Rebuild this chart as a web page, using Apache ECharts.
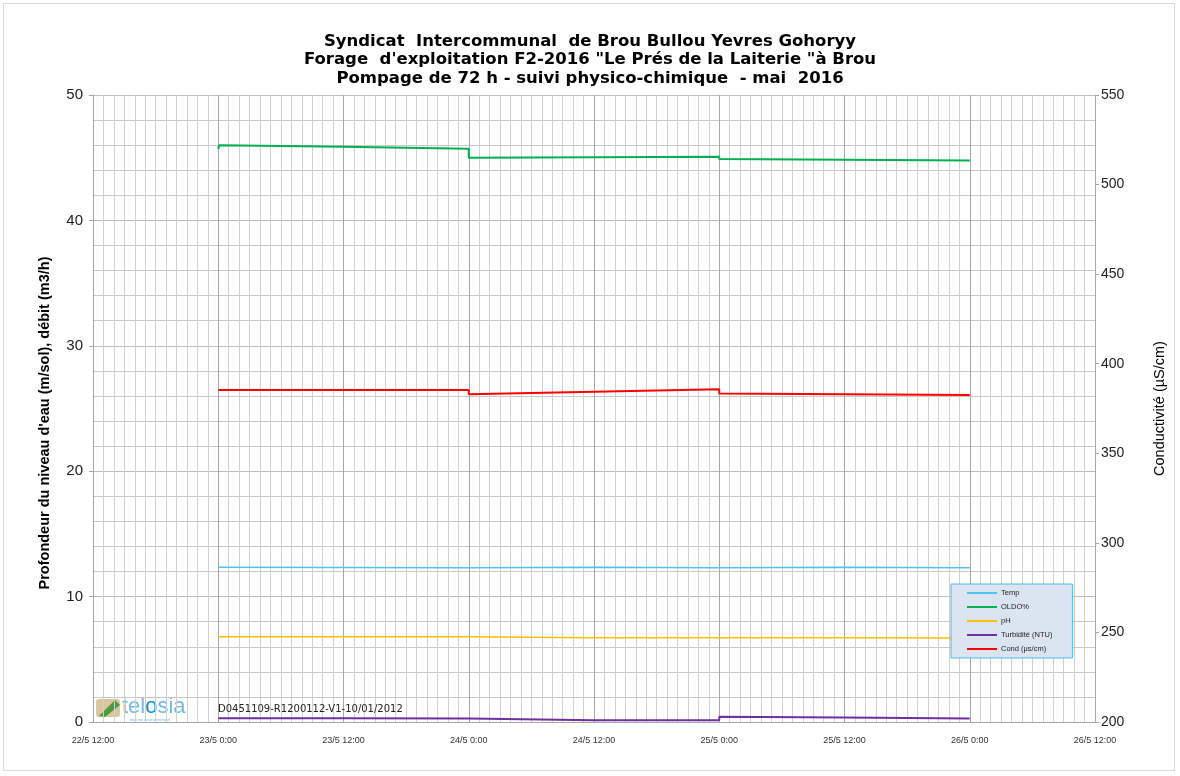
<!DOCTYPE html>
<html>
<head>
<meta charset="utf-8">
<script src="https://cdn.jsdelivr.net/npm/echarts@6/dist/echarts.min.js"></script>
<style>
html,body{margin:0;padding:0;background:#fff;}
#frame{position:absolute;left:3px;top:3px;width:1172px;height:768px;border:1px solid #d9d9d9;box-sizing:border-box;}
#c{position:absolute;left:0;top:0;width:1180px;height:776px;}
</style>
</head>
<body>
<div id="frame"></div>
<div id="c"></div>
<script>
// --- data ---
const titleLines = [
  'Syndicat  Intercommunal  de Brou Bullou Yevres Gohoryy',
  'Forage  d\'exploitation F2-2016 "Le Prés de la Laiterie "à Brou',
  'Pompage de 72 h - suivi physico-chimique  - mai  2016'
];
// sample times (UTC), duplicates at the day changes make the vertical steps
const times = [
  '2016-05-23T00:00', '2016-05-23T00:05', '2016-05-23T12:00', '2016-05-24T00:00',
  '2016-05-24T00:00', '2016-05-24T12:00', '2016-05-25T00:00',
  '2016-05-25T00:00', '2016-05-25T12:00', '2016-05-26T00:00'
];
const temp      = [12.35, 12.35, 12.33, 12.30, 12.37, 12.34, 12.31, 12.37, 12.34, 12.30];
const oldo      = [45.70, 46.00, 45.88, 45.72, 45.00, 45.04, 45.08, 44.90, 44.84, 44.77];
const ph        = [6.80, 6.80, 6.80, 6.80, 6.72, 6.72, 6.72, 6.72, 6.71, 6.70];
const turbidite = [0.30, 0.30, 0.29, 0.28, 0.13, 0.13, 0.13, 0.42, 0.35, 0.28];
const cond      = [385.3, 385.3, 385.3, 385.3, 382.9, 384.3, 385.7, 383.4, 383.0, 382.5];
const seriesNames = ['Temp', 'OLDO%', 'pH', 'Turbidité (NTU)', 'Cond (µs/cm)'];
const seriesColors = ['#4fc3f0', '#00b050', '#ffc000', '#7030a0', '#ff0000'];
const xStart = '2016-05-22T12:00';
const xEnd = '2016-05-26T12:00';
const leftName = "Profondeur du niveau d'eau (m/sol), débit (m3/h)";
const rightName = 'Conductivité (µS/cm)';
const docRef = 'D0451109-R1200112-V1-10/01/2012';

// --- helpers ---
const ts = s => Date.parse(s + ':00Z');
const pairs = vals => times.map((t, i) => [ts(t), vals[i]]);
const H12 = 12 * 3600 * 1000;
const fmt = v => { const d = new Date(v); return d.getUTCDate() + '/' + (d.getUTCMonth() + 1) + ' ' + d.getUTCHours() + ':' + String(d.getUTCMinutes()).padStart(2, '0'); };

const chart = echarts.init(document.getElementById('c'), null, {renderer: 'canvas'});
const valsList = [temp, oldo, ph, turbidite, cond];
const series = seriesNames.map((n, i) => ({
  name: n, type: 'line', yAxisIndex: i === 4 ? 1 : 0,
  data: pairs(valsList[i]), showSymbol: false, symbol: 'none',
  lineStyle: {color: seriesColors[i], width: i === 0 || i === 2 ? 1.5 : 2},
  itemStyle: {color: seriesColors[i]}, animation: false
}));

chart.setOption({
  animation: false,
  textStyle: {fontFamily: 'Liberation Sans'},
  title: {
    text: titleLines.join('\n'), left: 'center', top: 27,
    textStyle: {fontFamily: 'DejaVu Sans', fontWeight: 'bold', fontSize: 16.5, lineHeight: 18.5, color: '#000'}
  },
  grid: {left: 93, right: 85, top: 95, bottom: 54, containLabel: false},
  legend: {
    orient: 'vertical', left: 951, top: 584, width: 124,
    data: seriesNames, icon: 'rect', itemWidth: 30, itemHeight: 2, itemGap: 6,
    backgroundColor: '#dbe5f1', borderColor: '#4db8e8', borderWidth: 1,
    padding: [5, 20, 5, 16],
    textStyle: {fontSize: 7.5, color: '#222', fontFamily: 'Liberation Sans', width: 52, padding: [0, 0, 0, -1]}
  },
  xAxis: {
    type: 'value', min: ts(xStart), max: ts(xEnd), interval: H12,
    axisLine: {show: true, lineStyle: {color: '#a6a6a6'}},
    axisTick: {show: false},
    axisLabel: {formatter: fmt, fontSize: 9, color: '#333', margin: 14, fontFamily: 'Liberation Sans'},
    splitLine: {show: true, lineStyle: {color: '#a6a6a6', width: 1}},
    minorTick: {show: false, splitNumber: 12},
    minorSplitLine: {show: true, lineStyle: {color: '#d0d0d0', width: 1}}
  },
  yAxis: [{
    type: 'value', min: 0, max: 50, interval: 10, position: 'left',
    axisLine: {show: true, lineStyle: {color: '#a6a6a6'}},
    axisTick: {show: true, length: 4, lineStyle: {color: '#a6a6a6'}},
    axisLabel: {fontSize: 15, color: '#222', margin: 10, fontFamily: 'Liberation Sans'},
    splitLine: {show: true, lineStyle: {color: '#bdbdbd'}},
    minorTick: {show: false, splitNumber: 5},
    minorSplitLine: {show: true, lineStyle: {color: '#c8c8c8'}}
  }, {
    type: 'value', min: 200, max: 550, interval: 50, position: 'right',
    name: rightName, nameLocation: 'middle', nameGap: 57, nameRotate: 90,
    nameTextStyle: {fontSize: 14.5, color: '#000', fontFamily: 'Liberation Sans'},
    axisLine: {show: true, lineStyle: {color: '#a6a6a6'}},
    axisTick: {show: true, length: 4, inside: false, lineStyle: {color: '#a6a6a6'}},
    axisLabel: {fontSize: 14, color: '#222', margin: 6, fontFamily: 'Liberation Sans'},
    splitLine: {show: false}
  }],
  graphic: [
    {type: 'text', x: 45, y: 423, rotation: Math.PI / 2, z: 10,
     style: {text: leftName, font: 'bold 14.5px "Liberation Sans"', fill: '#000', align: 'center', verticalAlign: 'middle'}},
    {type: 'text', left: 218, top: 704, z: 10,
     style: {text: docRef, font: '10px "DejaVu Sans"', fill: '#222'}},
    {type: 'group', left: 96, top: 696, z: 10, children: [
      {type: 'rect', shape: {x: 0, y: 3, width: 24, height: 18, r: 3}, style: {fill: '#d8c7a0'}},
      {type: 'polygon', shape: {points: [[3, 20], [19, 4], [24, 9], [9, 21]]}, style: {fill: '#4f9a3a'}},
      {type: 'text', x: 26, y: 0, style: {
        text: 'tel{o|o}sia', font: '22px "Liberation Sans"', fill: '#74b9de',
        rich: {o: {fontSize: 22, fontFamily: 'Liberation Sans', fill: '#1f8fcf'}}}},
      {type: 'text', x: 34, y: 22, style: {text: 'eau sol environnement', font: '4px "Liberation Sans"', fill: '#6cb4dc'}}
    ]}
  ],
  series: series
});
</script>
</body>
</html>
